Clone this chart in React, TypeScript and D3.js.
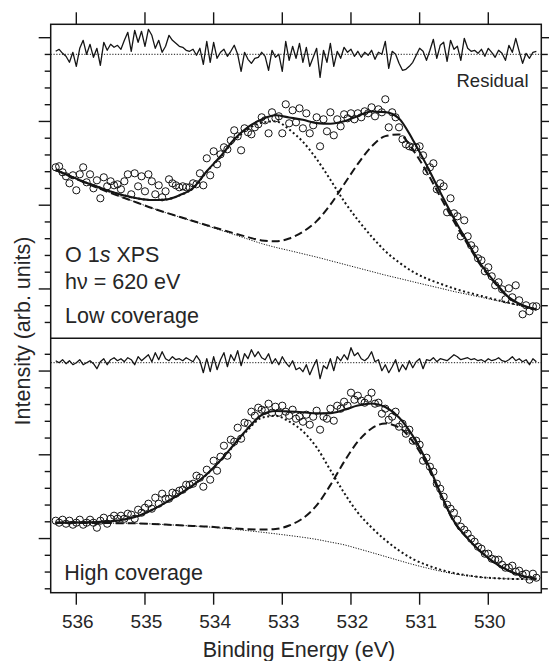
import React from 'react';
import * as d3 from 'd3';

// Binding-energy grid of the fitted curves (eV)
const FIT_BE = [536.3, 536.1, 535.9, 535.7, 535.5, 535.3, 535.1, 534.9, 534.7, 534.5, 534.3, 534.1, 533.9, 533.7, 533.5, 533.3, 533.1, 532.9, 532.7, 532.5, 532.3, 532.1, 531.9, 531.7, 531.5, 531.3, 531.1, 530.9, 530.7, 530.5, 530.3, 530.1, 529.9, 529.7, 529.5, 529.3];

// Measurement grid: 536.30 eV down in 0.05 eV steps
const DATA_BE_START = 536.3;
const DATA_BE_STEP = 0.05;
const DATA_COUNT = 141;

// ---- Low coverage (top panel), arb. units ----
const LOW_BG = [168.3, 162.3, 156.3, 150.8, 145.3, 140.3, 135.3, 130.3, 125.7, 121.3, 117.0, 112.6, 108.2, 103.7, 99.2, 94.7, 91.0, 87.8, 84.5, 81.2, 77.6, 74.0, 70.4, 66.8, 63.2, 59.9, 56.6, 53.3, 50.1, 46.8, 43.9, 41.0, 38.0, 35.1, 32.1, 28.8];
const LOW_PEAK1 = [0, 0.2, 0.5, 1, 1.5, 2.5, 4.5, 8, 13, 21.5, 33, 54, 73, 94, 110, 121, 126, 121, 112, 98, 81, 63, 48, 35, 24, 16, 10, 6.5, 4.5, 3, 2, 1.3, 0.8, 0.4, 0.2, 0];
const LOW_PEAK2 = [0, 0, 0, 0, 0, 0, 0, 0, 0.1, 0.2, 0.3, 0.5, 0.8, 1.3, 2, 3.2, 6, 12, 22, 36, 56, 80, 104, 125, 139, 144, 132, 113.5, 91.5, 70, 50, 31, 17, 5.4, 0.8, 0];
const LOW_DATA = [171, 172, 166, 162, 155, 163, 148, 164, 171, 156,
  164, 150, 158, 140, 161, 152, 157, 153, 154, 149,
  157, 164, 144, 165, 152, 162, 147, 164, 157, 144,
  153, 141, 147, 159, 155, 153, 151, 152, 151, 151,
  155, 154, 165, 153, 180, 163, 187, 174, 184, 191,
  189, 198, 208, 202, 188, 210, 206, 204, 211, 214,
  221, 218, 205, 226, 220, 222, 205, 234, 215, 228,
  216, 230, 210, 225, 205, 213, 221, 192, 219, 207,
  226, 203, 219, 212, 224, 220, 225, 219, 225, 221,
  227, 225, 231, 222, 229, 226, 239, 211, 226, 221,
  211, 199, 194, 192, 191, 191, 192, 183, 167, 171,
  175, 149, 155, 152, 126, 140, 125, 122, 102, 118,
  102, 93, 89, 80, 78, 67, 71, 62, 53, 56,
  49, 39, 50, 41, 53, 38, 24, 33, 27, 32,
  32];
const LOW_RESIDUAL = [3, 5, 1, -2, -8, 2, -12, 6, 14, 0,
  10, -3, 6, -11, 12, 4, 10, 7, 9, 5,
  14, 22, 3, 24, 12, 23, 8, 25, 19, 6,
  14, 2, 8, 19, 14, 11, 8, 7, 4, 3,
  5, -1, 6, -10, 13, -8, 12, -4, 2, 5,
  -2, 3, 9, 0, -17, 2, -5, -9, -4, -3,
  2, -2, -16, 4, -3, 0, -17, 13, -6, 8,
  -4, 11, -8, 7, -12, -3, 6, -23, 4, -8,
  11, -12, 3, -4, 7, 2, 5, -2, 3, -3,
  2, -1, 4, -5, 2, 0, 13, -14, 3, 0,
  -9, -16, -15, -12, -8, -1, 6, 3, -6, 4,
  15, -4, 9, 12, -7, 14, 5, 8, -6, 16,
  6, 3, 4, 1, 5, -2, 6, 2, -3, 4,
  1, -6, 9, 2, 16, 3, -9, 1, -4, 2,
  3];
const LOW_RES_OFFSET = 284;

// ---- High coverage (bottom panel), arb. units ----
const HIGH_BG = [70.0, 69.9, 69.8, 69.7, 69.6, 69.5, 69.3, 68.8, 68.1, 67.4, 66.7, 65.9, 64.7, 63.4, 62.0, 60.5, 58.9, 57.2, 55.4, 53.3, 50.6, 47.9, 44.1, 40.2, 36.2, 32.2, 28.3, 24.8, 21.6, 18.9, 17.0, 15.4, 14.5, 13.9, 13.6, 13.4];
const HIGH_PEAK1 = [0, 0.2, 0.5, 1, 1.8, 3.7, 7.4, 13.9, 22, 31, 40.7, 52.3, 67.3, 84.3, 101, 114.5, 118, 114, 106, 92, 72, 52, 36, 25, 16.5, 10, 5.5, 3, 1.5, 0.7, 0.3, 0.1, 0, 0, 0, 0];
const HIGH_PEAK2 = [0, 0, 0, 0, 0, 0, 0, 0, 0, 0, 0.1, 0.3, 0.5, 0.8, 1.5, 2.7, 4.8, 10, 19, 34, 57, 83, 107, 124, 133, 133, 123, 104, 77, 52, 37, 25, 15, 8, 3, 0.5];
const HIGH_DATA = [72, 70, 73, 69, 72, 68, 70, 73, 68, 70,
  73, 70, 65, 72, 75, 69, 74, 77, 74, 77,
  74, 79, 78, 74, 83, 80, 85, 89, 84, 95,
  89, 99, 94, 94, 100, 99, 102, 103, 108, 108,
  109, 117, 115, 106, 123, 113, 132, 122, 136, 147,
  137, 153, 151, 165, 154, 170, 169, 181, 177, 185,
  183, 182, 189, 180, 186, 180, 187, 181, 177, 183,
  174, 176, 171, 178, 168, 176, 182, 163, 176, 174,
  184, 172, 187, 184, 191, 187, 200, 193, 197, 192,
  190, 194, 200, 189, 190, 179, 184, 173, 176, 181,
  166, 169, 159, 163, 152, 152, 148, 132, 135, 126,
  121, 109, 104, 96, 88, 84, 80, 73, 66, 63,
  59, 54, 51, 46, 44, 39, 39, 34, 33, 33,
  28, 25, 25, 27, 21, 22, 18, 19, 13, 19,
  15];
const HIGH_RESIDUAL = [2, 0, 3, -1, 2, -2, 0, 3, -2, 0,
  2, -1, -6, 1, 4, -2, 3, 5, 2, 4,
  1, 5, 3, -2, 6, 2, 5, 8, 1, 10,
  3, 11, 4, 2, 6, 3, 4, 2, 5, 3,
  1, 7, 2, -10, 4, -9, 6, -7, 3, 10,
  -4, 8, 2, 12, -3, 9, 4, 13, 6, 11,
  5, 3, 9, -1, 4, -2, 6, 0, -4, 2,
  -7, -5, -9, -2, -12, -4, 3, -16, -3, -6,
  4, -8, 6, 2, 8, 3, 15, 7, 10, 4,
  2, 5, 11, 1, 3, -8, -2, -10, -4, 3,
  -9, -2, -7, 2, -5, 1, 4, -6, 3, 2,
  5, 1, 4, 3, 2, 5, 8, 6, 3, 4,
  5, 3, 4, 2, 3, 1, 4, 2, 3, 5,
  2, 1, 3, 6, 2, 4, 1, 3, -2, 4,
  1];
const HIGH_RES_OFFSET = 230;

const X_TICKS = [536, 535, 534, 533, 532, 531, 530];

const W = 549;
const H = 661;
const FRAME_L = 50.7;
const FRAME_R = 541.3;
const FRAME_T = 24.3;
const FRAME_MID = 338.3;
const FRAME_B = 592.7;
const FONT = '"Liberation Sans", Arial, Helvetica, sans-serif';
const INK = '#151515';
const TEXT = '#262626';

const DATA_BE = Array.from({ length: DATA_COUNT }, (_, i) => +(DATA_BE_START - DATA_BE_STEP * i).toFixed(2));

const x = d3.scaleLinear().domain([536.373, 529.228]).range([FRAME_L, FRAME_R]);

type PanelProps = {
  y: d3.ScaleLinear<number, number>;
  bg: number[];
  p1: number[];
  p2: number[];
  data: number[];
  res: number[];
  resOffset: number;
  ticks: number[];
  major: (k: number) => boolean;
};

function Panel({ y, bg, p1, p2, data, res, resOffset, ticks, major }: PanelProps) {
  const smooth = d3.line<[number, number]>().x(d => x(d[0])).y(d => y(d[1])).curve(d3.curveMonotoneX);
  const straight = d3.line<[number, number]>().x(d => x(d[0])).y(d => y(d[1]));
  const bgPts = FIT_BE.map((e, i) => [e, bg[i]] as [number, number]);
  const c1 = FIT_BE.map((e, i) => [e, bg[i] + p1[i]] as [number, number]);
  const c2 = FIT_BE.map((e, i) => [e, bg[i] + p2[i]] as [number, number]);
  const fit = FIT_BE.map((e, i) => [e, bg[i] + p1[i] + p2[i]] as [number, number]);
  const resPts = DATA_BE.map((e, i) => [e, resOffset + res[i]] as [number, number]);
  const [d0, d1] = x.domain();
  return (
    <g>
      {ticks.map((t, k) => (
        <g key={k}>
          <line x1={FRAME_L - (major(k) ? 12 : 6)} x2={FRAME_L} y1={y(t)} y2={y(t)} stroke={INK} strokeWidth={1.4} />
          <line x1={FRAME_R} x2={FRAME_R + (major(k) ? 12 : 6.5)} y1={y(t)} y2={y(t)} stroke={INK} strokeWidth={1.4} />
        </g>
      ))}
      <path d={straight([[d0, resOffset], [d1, resOffset]]) || ''} fill="none" stroke={INK} strokeWidth={1} strokeDasharray="1.2,1.6" />
      <path d={straight(resPts) || ''} fill="none" stroke={INK} strokeWidth={1.3} strokeLinejoin="round" />
      <path d={smooth(bgPts) || ''} fill="none" stroke={INK} strokeWidth={1} strokeDasharray="1.2,1.4" />
      <path d={smooth(c1) || ''} fill="none" stroke={INK} strokeWidth={2} strokeDasharray="2,2.6" />
      <path d={smooth(c2) || ''} fill="none" stroke={INK} strokeWidth={2} strokeDasharray="8,4" />
      {data.map((v, i) => (
        <circle key={i} cx={x(DATA_BE[i])} cy={y(v)} r={3.6} fill="none" stroke={INK} strokeWidth={1} />
      ))}
      <path d={smooth(fit) || ''} fill="none" stroke={INK} strokeWidth={2.1} />
    </g>
  );
}

export default function App() {
  const yLow = d3.scaleLinear().domain([0, 314]).range([FRAME_MID, FRAME_T]);
  const yHigh = d3.scaleLinear().domain([0, 254.4]).range([FRAME_B, FRAME_MID]);
  const lowTicks = d3.range(18).map(k => 300.6 - 16.75 * k);
  const highTicks = d3.range(15).map(k => 238.4 - 16.75 * k);
  return (
    <svg width={W} height={H} style={{ position: 'absolute', left: 0, top: 0, background: '#fff' }} fontFamily={FONT}>
      <rect x={0} y={0} width={W} height={H} fill="#fff" />
      <Panel y={yLow} bg={LOW_BG} p1={LOW_PEAK1} p2={LOW_PEAK2} data={LOW_DATA} res={LOW_RESIDUAL}
        resOffset={LOW_RES_OFFSET} ticks={lowTicks} major={k => k % 5 === 0} />
      <Panel y={yHigh} bg={HIGH_BG} p1={HIGH_PEAK1} p2={HIGH_PEAK2} data={HIGH_DATA} res={HIGH_RESIDUAL}
        resOffset={HIGH_RES_OFFSET} ticks={highTicks} major={k => k % 5 === 1} />
      <rect x={FRAME_L} y={FRAME_T} width={FRAME_R - FRAME_L} height={FRAME_B - FRAME_T} fill="none" stroke={INK} strokeWidth={1.5} />
      <line x1={FRAME_L} x2={FRAME_R} y1={FRAME_MID} y2={FRAME_MID} stroke={INK} strokeWidth={1.5} />
      {X_TICKS.map(t => (
        <g key={t}>
          <line x1={x(t)} x2={x(t)} y1={FRAME_T - 12} y2={FRAME_T} stroke={INK} strokeWidth={1.4} />
          <line x1={x(t)} x2={x(t)} y1={FRAME_B} y2={FRAME_B + 12} stroke={INK} strokeWidth={1.4} />
          <text x={x(t) + 1.5} y={628.3} textAnchor="middle" fontSize={19} fill={TEXT}>{t}</text>
        </g>
      ))}
      <text x={299} y={656.5} textAnchor="middle" fontSize={21.5} fill={TEXT}>Binding Energy (eV)</text>
      <text transform="translate(30,331) rotate(-90)" textAnchor="middle" fontSize={21.5} fill={TEXT}>Intensity (arb. units)</text>
      <text x={528.5} y={86.7} textAnchor="end" fontSize={18.5} fill={TEXT}>Residual</text>
      <text x={65} y={262.3} fontSize={21.5} fill={TEXT}>O 1<tspan fontStyle="italic">s</tspan> XPS</text>
      <text x={65} y={289} fontSize={21.5} fill={TEXT}>hν = 620 eV</text>
      <text x={65} y={322.7} fontSize={21.5} fill={TEXT}>Low coverage</text>
      <text x={64.3} y={580} fontSize={21.5} fill={TEXT}>High coverage</text>
    </svg>
  );
}
